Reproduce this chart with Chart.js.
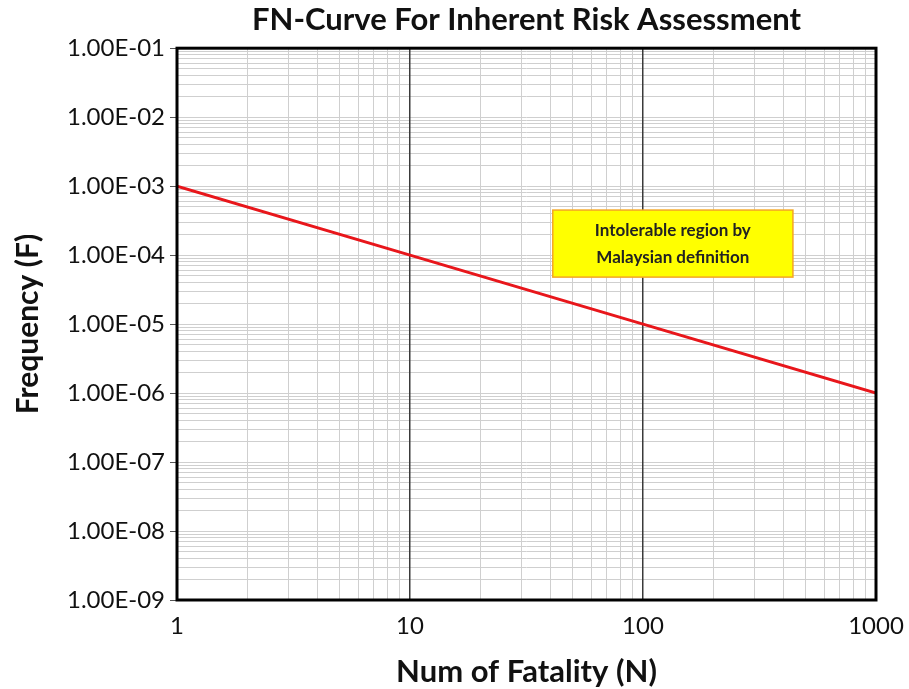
<!DOCTYPE html>
<html>
<head>
<meta charset="utf-8">
<script src="https://cdn.jsdelivr.net/npm/chart.js@4/dist/chart.umd.min.js"></script>
<style>
  body { margin: 0; background: #fff; }
</style>
</head>
<body>
<canvas id="fnChart" width="909" height="689"></canvas>
<script>
// FN curve data
const fatalities = [1, 10, 100, 1000];
const frequencies = [1e-3, 1e-4, 1e-5, 1e-6];

// axis ticks
const xMajorValues = [1, 10, 100, 1000];
const xTickLabels = ['1', '10', '100', '1000'];
const yMajorValues = [1e-9, 1e-8, 1e-7, 1e-6, 1e-5, 1e-4, 1e-3, 1e-2, 1e-1];
const yTickLabels = ['1.00E-09', '1.00E-08', '1.00E-07', '1.00E-06', '1.00E-05', '1.00E-04', '1.00E-03', '1.00E-02', '1.00E-01'];

const noteLines = ['Intolerable region by', 'Malaysian definition'];

const FONT = "Lato, 'DejaVu Sans', sans-serif";

// log grid: 1..9 in every decade
function logGrid(majors) {
    const vals = [];
    for (let i = 0; i < majors.length - 1; i++) {
        const e = Math.round(Math.log10(majors[i]));
        for (let m = 1; m <= 9; m++) vals.push(Number(m + 'e' + e));
    }
    vals.push(majors[majors.length - 1]);
    return vals;
}

function isMajor(v, majors) {
    return majors.some(m => Math.abs(Math.log10(m) - Math.log10(v)) < 1e-6);
}

function labelFor(v, majors, labels) {
    const idx = majors.findIndex(m => Math.abs(Math.log10(m) - Math.log10(v)) < 1e-6);
    return idx >= 0 ? labels[idx] : '';
}

const framePlugin = {
    id: 'frame',
    afterDatasetsDraw(chart) {
        const {ctx, scales: {x, y}} = chart;
        // note box
        const left = x.getPixelForValue(41);
        const right = x.getPixelForValue(440);
        const top = y.getPixelForValue(4.5e-4);
        const bottom = y.getPixelForValue(4.8e-5);
        ctx.save();
        ctx.fillStyle = '#ffff00';
        ctx.fillRect(left, top, right - left, bottom - top);
        ctx.strokeStyle = '#f5a623';
        ctx.lineWidth = 1.5;
        ctx.strokeRect(left, top, right - left, bottom - top);
        ctx.fillStyle = '#222';
        ctx.font = "bold 17px " + FONT;
        ctx.textAlign = 'center';
        ctx.textBaseline = 'middle';
        const cx = (left + right) / 2;
        const cy = (top + bottom) / 2;
        ctx.fillText(noteLines[0], cx, cy - 13);
        ctx.fillText(noteLines[1], cx, cy + 14);
        ctx.restore();
    },
    afterDraw(chart) {
        const {ctx, chartArea: a} = chart;
        ctx.save();
        ctx.strokeStyle = '#000';
        ctx.lineWidth = 3;
        ctx.strokeRect(a.left, a.top, a.right - a.left, a.bottom - a.top);
        ctx.restore();
    }
};

const ctx = document.getElementById('fnChart');

new Chart(ctx, {
    type: 'scatter',
    data: {
        datasets: [{
            data: fatalities.map((n, i) => ({x: n, y: frequencies[i]})),
            showLine: true,
            borderColor: '#e8161b',
            borderWidth: 3,
            pointRadius: 0,
            fill: false
        }]
    },
    options: {
        responsive: false,
        animation: false,
        layout: {
            padding: {left: 0, right: 33, top: 0, bottom: 0}
        },
        plugins: {
            legend: { display: false },
            tooltip: { enabled: false },
            title: {
                display: true,
                fullSize: false,
                text: 'FN-Curve For Inherent Risk Assessment',
                color: '#111',
                font: { family: FONT, size: 31, weight: 'bold', lineHeight: 1.2 },
                padding: { top: 1, bottom: 10 }
            }
        },
        scales: {
            // y first so the dark decade lines of x are drawn over it
            y: {
                type: 'logarithmic',
                min: 1e-9,
                max: 1e-1,
                afterBuildTicks: s => { s.ticks = logGrid(yMajorValues).map(v => ({value: v})); },
                afterFit: s => { s.width = 177; },
                border: { display: false },
                grid: {
                    drawTicks: true,
                    tickLength: 7,
                    lineWidth: 1,
                    color: '#cfcfcf',
                    tickColor: c => (c.tick && isMajor(c.tick.value, yMajorValues)) ? '#555' : 'rgba(0,0,0,0)'
                },
                ticks: {
                    autoSkip: false,
                    padding: 5,
                    color: '#111',
                    font: { family: FONT, size: 24 },
                    callback: v => labelFor(v, yMajorValues, yTickLabels)
                },
                title: {
                    display: true,
                    text: 'Frequency (F)',
                    color: '#111',
                    font: { family: FONT, size: 30, weight: 'bold', lineHeight: 1 },
                    padding: { top: 13, bottom: 0 }
                }
            },
            x: {
                type: 'logarithmic',
                min: 1,
                max: 1000,
                afterBuildTicks: s => { s.ticks = logGrid(xMajorValues).map(v => ({value: v})); },
                afterFit: s => { s.height = 89; s.paddingRight = 0; },
                border: { display: false },
                grid: {
                    drawTicks: false,
                    lineWidth: c => (c.tick && isMajor(c.tick.value, [10, 100])) ? 1.5 : 1,
                    color: c => (c.tick && isMajor(c.tick.value, [10, 100])) ? '#3a3a3a' : '#cfcfcf'
                },
                ticks: {
                    autoSkip: false,
                    maxRotation: 0,
                    padding: 12,
                    color: '#111',
                    font: { family: FONT, size: 24 },
                    callback: v => labelFor(v, xMajorValues, xTickLabels)
                },
                title: {
                    display: true,
                    text: 'Num of Fatality (N)',
                    color: '#111',
                    font: { family: FONT, size: 31, weight: 'bold', lineHeight: 1 },
                    padding: { top: 0, bottom: 2 }
                }
            }
        }
    },
    plugins: [framePlugin]
});
</script>
</body>
</html>
